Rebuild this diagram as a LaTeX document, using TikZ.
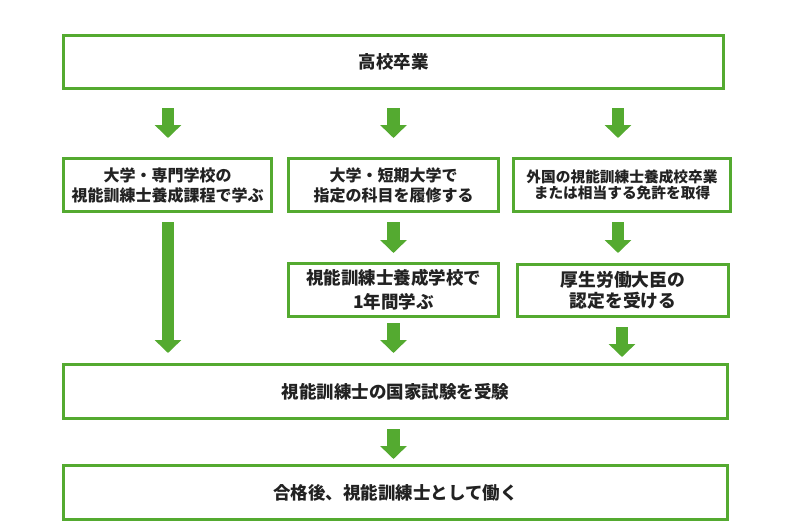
\documentclass[tikz,border=0pt]{standalone}
\usepackage{fontspec}
\setmainfont{Noto Sans CJK JP}
\usetikzlibrary{arrows.meta}

\definecolor{boxgreen}{RGB}{84,170,48}
\definecolor{ink}{RGB}{34,34,34}

\tikzset{
  stepbox/.style={draw=boxgreen, line width=3pt, fill=white, text=ink,
    align=center, inner sep=0pt, minimum height=53pt, font=\bfseries},
  fatarrow/.style={draw=boxgreen, line width=12.5pt,
    -{Triangle[width=26pt, length=13pt]}, shorten <=9pt, shorten >=9pt}
}

\begin{document}
\begin{tikzpicture}[x=1pt, y=-1pt]
\useasboundingbox (0,0) rectangle (800,527);

\node[stepbox, minimum width=660pt, font=\bfseries\fontsize{17.5}{22}\selectfont]
  at (393.5,62) (hs) {高校卒業};

\node[stepbox, minimum width=208pt, font=\bfseries\fontsize{16}{20}\selectfont]
  at (167.5,185) (senmon) {大学・専門学校の\\視能訓練士養成課程で学ぶ};
\node[stepbox, minimum width=210pt, font=\bfseries\fontsize{16}{20}\selectfont]
  at (393.5,185) (tanki) {大学・短期大学で\\指定の科目を履修する};
\node[stepbox, minimum width=217pt, font=\bfseries\fontsize{14.7}{16.5}\selectfont]
  at (622,185) (gaikoku) {外国の視能訓練士養成校卒業\\または相当する免許を取得};

\node[stepbox, minimum width=210pt, font=\bfseries\fontsize{17.5}{24}\selectfont]
  at (393.5,290) (yousei) {視能訓練士養成学校で\\1年間学ぶ};
\node[stepbox, minimum width=211pt, minimum height=52pt, font=\bfseries\fontsize{17.8}{21}\selectfont]
  at (623,290.5) (nintei) {厚生労働大臣の\\認定を受ける};

\node[stepbox, minimum width=664pt, minimum height=54pt, font=\bfseries\fontsize{17.5}{22}\selectfont]
  at (395.5,391.5) (shiken) {視能訓練士の国家試験を受験};
\node[stepbox, minimum width=664pt, minimum height=54pt, font=\bfseries\fontsize{17.5}{22}\selectfont]
  at (395.5,492.5) (shigoto) {合格後、視能訓練士として働く};

% from high school to the three routes
\draw[fatarrow, shorten <=18pt, shorten >=19pt] (hs.south -| 168,0) -- (senmon.north -| 168,0);
\draw[fatarrow, shorten <=18pt, shorten >=19pt] (hs.south -| tanki) -- (tanki.north);
\draw[fatarrow, shorten <=18pt, shorten >=19pt] (hs.south -| 618,0) -- (gaikoku.north -| 618,0);

% left route straight to the exam
\draw[fatarrow, shorten >=10pt] (senmon.south -| 168,0) -- (shiken.north -| 168,0);

% middle route
\draw[fatarrow] (tanki) ++(0,28) coordinate (t1) (t1) -- (yousei.north);
\draw[fatarrow, shorten <=5pt, shorten >=10pt] (yousei.south) -- (shiken.north -| yousei);

% right route
\draw[fatarrow, shorten >=10pt] (gaikoku.south -| 618,0) -- (nintei.north -| 618,0);
\draw[fatarrow, shorten >=6pt] (nintei.south -| 622,0) -- (shiken.north -| 622,0);

% exam to work
\draw[fatarrow, shorten >=5pt] (shiken.south -| tanki) -- (shigoto.north -| tanki);

\end{tikzpicture}
\end{document}
